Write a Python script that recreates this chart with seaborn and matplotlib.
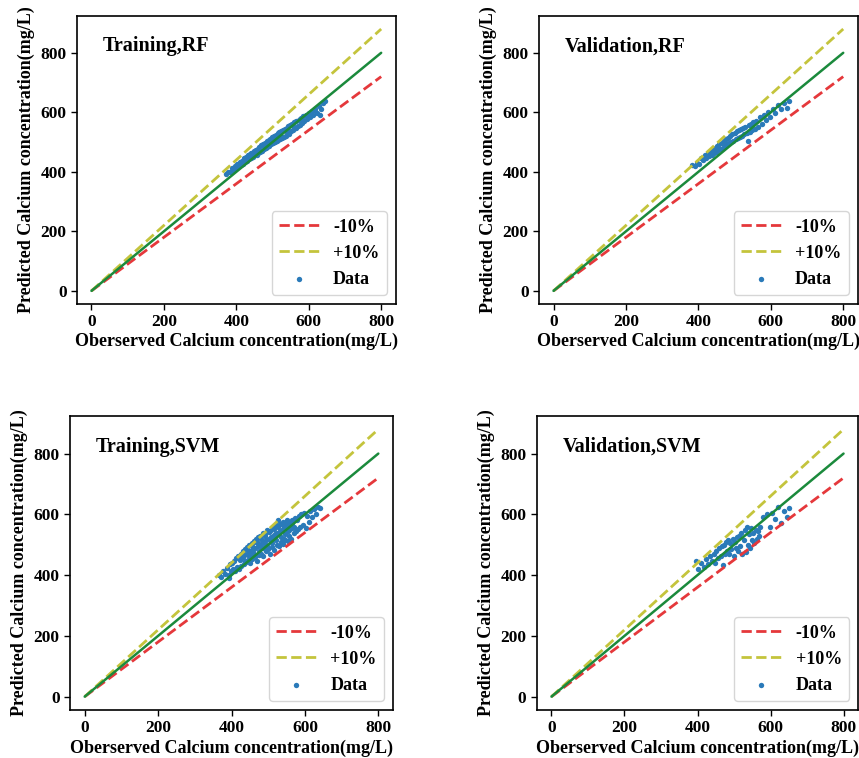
import matplotlib
matplotlib.use("Agg")
import matplotlib.pyplot as plt
import seaborn as sns

# ---------------- data ----------------
line_x = [0, 800]
lower_factor = 0.9
upper_factor = 1.1

train_rf_obs = [372, 378, 383, 388, 392, 396, 400, 403, 407, 410, 413, 416, 419, 422, 425, 428, 430, 433,
                436, 438, 441, 444, 446, 449, 451, 454, 456, 459, 461, 464, 466, 469, 471, 474, 476, 479,
                481, 484, 486, 489, 491, 494, 496, 499, 501, 504, 506, 509, 511, 514, 516, 519, 521, 524,
                526, 529, 531, 534, 536, 539, 541, 544, 546, 549, 551, 554, 557, 560, 563, 566, 569, 572,
                575, 578, 581, 584, 588, 592, 596, 600, 604, 608, 612, 617, 622, 628, 634, 640, 645, 632,
                420, 435, 445, 455, 465, 475, 485, 495, 505, 515, 525, 535, 545, 555, 565, 575, 585, 595,
                605, 615, 440, 460, 480, 500, 520, 540, 560, 580]
train_rf_pred = [392, 401, 398, 412, 406, 420, 414, 427, 418, 433, 423, 438, 428, 445, 433, 450, 438, 455,
                 442, 460, 447, 463, 451, 470, 455, 474, 458, 478, 463, 482, 467, 489, 470, 494, 476, 498,
                 480, 502, 484, 507, 488, 512, 492, 516, 497, 520, 500, 524, 503, 529, 507, 533, 511, 537,
                 514, 541, 518, 545, 522, 548, 527, 553, 531, 556, 536, 560, 541, 566, 548, 570, 553, 575,
                 558, 580, 564, 586, 571, 592, 578, 598, 585, 604, 592, 612, 598, 620, 611, 632, 638, 592,
                 440, 455, 458, 475, 470, 490, 488, 508, 500, 525, 518, 540, 528, 560, 548, 578, 570, 590,
                 590, 608, 462, 470, 495, 505, 522, 540, 552, 570]

val_rf_obs = [383, 390, 396, 402, 408, 413, 418, 422, 426, 430, 434, 437, 440, 443, 446, 449, 452, 455,
              458, 461, 464, 467, 470, 473, 476, 479, 482, 485, 488, 491, 494, 497, 500, 503, 506, 509,
              512, 515, 518, 521, 524, 527, 530, 533, 536, 539, 542, 545, 548, 552, 556, 560, 565, 570,
              575, 580, 586, 592, 598, 605, 612, 620, 628, 636, 645, 650]
val_rf_pred = [422, 418, 430, 428, 446, 440, 455, 447, 462, 452, 470, 458, 475, 463, 480, 468, 488, 472,
               493, 476, 498, 480, 505, 487, 510, 492, 515, 496, 520, 500, 526, 505, 530, 510, 536, 514,
               540, 518, 545, 522, 548, 526, 552, 530, 502, 556, 535, 560, 540, 566, 545, 572, 552, 585,
               560, 592, 575, 600, 585, 612, 598, 625, 610, 630, 616, 637]

train_svm_obs = [365, 372, 378, 383, 388, 392, 396, 399, 402, 405, 408, 410, 413, 415, 418, 420, 422, 425,
                 427, 429, 431, 433, 435, 437, 439, 441, 443, 445, 447, 449, 451, 453, 455, 457, 459, 461,
                 463, 465, 467, 469, 471, 473, 475, 477, 479, 481, 483, 485, 487, 489, 491, 493, 495, 497,
                 499, 501, 503, 505, 507, 509, 511, 513, 515, 517, 519, 521, 523, 525, 527, 529, 531, 533,
                 535, 537, 539, 541, 543, 545, 547, 549, 551, 553, 555, 557, 560, 563, 566, 569, 572, 575,
                 578, 581, 584, 587, 590, 594, 598, 602, 606, 610, 615, 620, 625, 630, 636, 642, 392,
                 432, 438, 444, 450, 456, 462, 468, 474, 480, 486, 492, 498, 504, 510, 516, 522, 528, 534,
                 540, 546, 552, 558, 564, 570, 446, 470, 494, 518, 542, 566, 458, 482, 506, 530, 554]
train_svm_pred = [400, 395, 412, 404, 425, 402, 436, 414, 440, 420, 448, 413, 455, 428, 462, 419, 450, 470,
                  431, 458, 478, 437, 465, 485, 442, 470, 492, 449, 475, 500, 441, 480, 505, 452, 486, 512,
                  458, 490, 520, 447, 495, 526, 465, 500, 530, 470, 505, 540, 462, 510, 535, 478, 515, 548,
                  485, 520, 542, 470, 525, 555, 492, 530, 560, 483, 535, 565, 500, 540, 580, 495, 545, 568,
                  508, 550, 575, 503, 555, 572, 515, 560, 582, 512, 565, 530, 575, 520, 570, 540, 588, 545,
                  580, 552, 595, 560, 600, 565, 605, 555, 595, 575, 612, 590, 618, 600, 625, 622, 390,
                  460, 448, 482, 462, 495, 470, 508, 478, 520, 488, 530, 495, 545, 505, 552, 515, 560, 525,
                  565, 535, 570, 548, 580, 560, 465, 510, 500, 528, 520, 555, 475, 490, 515, 538, 545]

val_svm_obs = [395, 402, 410, 418, 424, 430, 435, 440, 444, 448, 452, 456, 460, 463, 466, 469, 472, 475,
               478, 481, 484, 487, 490, 493, 496, 499, 502, 505, 508, 511, 514, 517, 520, 523, 526, 529,
               532, 535, 538, 541, 544, 547, 550, 553, 556, 559, 562, 565, 568, 572, 580, 590, 598, 605,
               612, 620, 628, 636, 644, 650]
val_svm_pred = [445, 420, 440, 428, 452, 436, 462, 445, 470, 440, 478, 455, 488, 462, 495, 434, 500, 470,
                510, 480, 515, 468, 505, 485, 520, 462, 510, 490, 525, 478, 530, 495, 540, 470, 515, 548,
                475, 560, 500, 535, 490, 555, 515, 540, 505, 550, 520, 545, 530, 560, 590, 600, 560, 605,
                585, 625, 570, 610, 590, 621]

panels = [
    ("Training,RF", train_rf_obs, train_rf_pred, [0.0896, 0.599, 0.371, 0.380]),
    ("Validation,RF", val_rf_obs, val_rf_pred, [0.6275, 0.599, 0.371, 0.380]),
    ("Training,SVM", train_svm_obs, train_svm_pred, [0.0815, 0.0633, 0.376, 0.388]),
    ("Validation,SVM", val_svm_obs, val_svm_pred, [0.625, 0.0633, 0.374, 0.388]),
]

# ---------------- style ----------------
sns.set_style("ticks")
plt.rcParams["font.family"] = ["Liberation Serif", "DejaVu Serif"]
plt.rcParams["font.weight"] = "bold"
plt.rcParams["axes.labelweight"] = "bold"
plt.rcParams["text.color"] = "black"
plt.rcParams["axes.labelcolor"] = "black"
plt.rcParams["xtick.color"] = "black"
plt.rcParams["ytick.color"] = "black"

RED = "#e5383b"
YEL = "#c4c43c"
GRN = "#1b8a3c"
BLU = "#2a7ab9"

fig = plt.figure(figsize=(8.59, 7.58), dpi=100)

for title, obs, pred, rect in panels:
    ax = fig.add_axes(rect)
    sns.scatterplot(x=obs, y=pred, s=15, color=BLU, linewidth=0, label="Data", ax=ax, zorder=1)
    sns.lineplot(x=line_x, y=[v * lower_factor for v in line_x], color=RED, linestyle="--",
                 linewidth=2, label="-10%", ax=ax, zorder=2)
    sns.lineplot(x=line_x, y=[v * upper_factor for v in line_x], color=YEL, linestyle="--",
                 linewidth=2, label="+10%", ax=ax, zorder=2)
    sns.lineplot(x=line_x, y=line_x, color=GRN, linewidth=1.8, ax=ax, zorder=3, legend=False)

    ax.set_xticks([0, 200, 400, 600, 800])
    ax.set_yticks([0, 200, 400, 600, 800])
    ax.tick_params(labelsize=12.5, length=4, width=1, color="black", labelcolor="black")
    for lab in ax.get_xticklabels() + ax.get_yticklabels():
        lab.set_fontweight("bold")
    for sp in ax.spines.values():
        sp.set_visible(True)
        sp.set_color("black")
        sp.set_linewidth(1.2)
    ax.set_xlabel("Oberserved Calcium concentration(mg/L)", fontsize=13, fontweight="bold",
                  labelpad=2, color="black")
    ax.set_ylabel("Predicted Calcium concentration(mg/L)", fontsize=13, fontweight="bold",
                  labelpad=4, color="black")
    ax.text(0.08, 0.895, title, transform=ax.transAxes, fontsize=14.5, fontweight="bold",
            va="center", ha="left", color="black")

    handles, labels = ax.get_legend_handles_labels()
    order = [labels.index("-10%"), labels.index("+10%"), labels.index("Data")]
    leg = ax.legend([handles[i] for i in order], [labels[i] for i in order], loc="lower right",
                    prop={"size": 13, "weight": "bold"}, frameon=True, handlelength=2.2)
    for t in leg.get_texts():
        t.set_color("black")

fig.savefig("out.png", dpi=100)
